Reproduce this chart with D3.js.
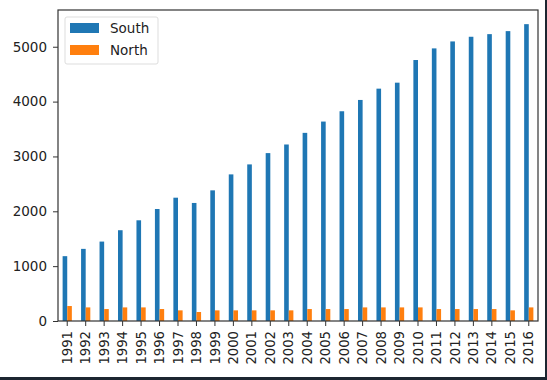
<!DOCTYPE html>
<html>
<head>
<meta charset="utf-8">
<script src="https://cdn.jsdelivr.net/npm/d3@7"></script>
<style>
  body { margin: 0; background: #fff; }
  svg { display: block; font-family: "DejaVu Sans", sans-serif; }
</style>
</head>
<body>
<svg id="chart" width="547" height="380"></svg>
<script>
const years = ["1991","1992","1993","1994","1995","1996","1997","1998","1999","2000",
               "2001","2002","2003","2004","2005","2006","2007","2008","2009","2010",
               "2011","2012","2013","2014","2015","2016"];
const south = [1182, 1315, 1448, 1655, 1836, 2042, 2248, 2152, 2382, 2673,
               2855, 3061, 3218, 3430, 3636, 3824, 4030, 4236, 4345, 4758,
               4970, 5097, 5182, 5230, 5285, 5412];
const north = [273, 248, 218, 248, 248, 218, 194, 164, 194, 194,
               194, 194, 194, 218, 218, 218, 248, 248, 248, 248,
               218, 218, 218, 218, 194, 248];
const seriesNames = ["South", "North"];
const yTicks = [0, 1000, 2000, 3000, 4000, 5000];

const colors = { South: "#1f77b4", North: "#ff7f0e" };
const margin = { left: 58, top: 10, right: 538, bottom: 321 };

const svg = d3.select("#chart");

const x = d3.scaleBand().domain(years).range([margin.left, margin.right]);
const y = d3.scaleLinear().domain([0, 5670]).range([margin.bottom, margin.top]);

const barW = x.bandwidth() * 0.25;

// bars
const data = { South: south, North: north };
seriesNames.forEach((name, si) => {
  svg.append("g").selectAll("rect")
    .data(data[name])
    .join("rect")
    .attr("x", (d, i) => x(years[i]) + x.bandwidth() / 2 - barW + si * barW)
    .attr("y", d => y(d))
    .attr("width", barW)
    .attr("height", d => y(0) - y(d))
    .attr("fill", colors[name]);
});

// axes
const yAxis = d3.axisLeft(y).tickValues(yTicks).tickFormat(d3.format("d")).tickSize(5).tickPadding(6);
svg.append("g")
  .attr("transform", `translate(${margin.left},0)`)
  .call(yAxis)
  .call(g => g.select(".domain").remove())
  .call(g => g.selectAll("line").attr("stroke", "#333"))
  .call(g => g.selectAll("text").attr("font-size", 13.5).attr("fill", "#222")
             .attr("font-family", "DejaVu Sans"));

const xAxis = d3.axisBottom(x).tickSize(5).tickPadding(6);
svg.append("g")
  .attr("transform", `translate(0,${margin.bottom})`)
  .call(xAxis)
  .call(g => g.select(".domain").remove())
  .call(g => g.selectAll("line").attr("stroke", "#333"))
  .call(g => g.selectAll("text")
    .attr("font-size", 13.2).attr("fill", "#222")
    .attr("font-family", "DejaVu Sans")
    .attr("transform", "rotate(-90)")
    .attr("text-anchor", "end")
    .attr("x", -10)
    .attr("y", 0)
    .attr("dy", "0.35em"));

// frame
svg.append("rect")
  .attr("x", margin.left).attr("y", margin.top)
  .attr("width", margin.right - margin.left)
  .attr("height", margin.bottom - margin.top)
  .attr("fill", "none").attr("stroke", "#333").attr("stroke-width", 1.2);

// legend
const legend = svg.append("g").attr("transform", "translate(65,17)");
legend.append("rect")
  .attr("width", 93).attr("height", 47).attr("rx", 2)
  .attr("fill", "#fff").attr("stroke", "#ddd");
seriesNames.forEach((name, i) => {
  legend.append("rect")
    .attr("x", 5).attr("y", 6 + i * 22)
    .attr("width", 29).attr("height", 10)
    .attr("fill", colors[name]);
  legend.append("text")
    .attr("x", 45).attr("y", 11 + i * 22)
    .attr("dy", "0.35em")
    .attr("font-size", 13.5).attr("fill", "#222")
    .text(name);
});

// screenshot border
svg.append("rect").attr("x", 0).attr("y", 377).attr("width", 547).attr("height", 3).attr("fill", "#1c2631");
svg.append("rect").attr("x", 545).attr("y", 0).attr("width", 2).attr("height", 380).attr("fill", "#1c2631");
</script>
</body>
</html>
